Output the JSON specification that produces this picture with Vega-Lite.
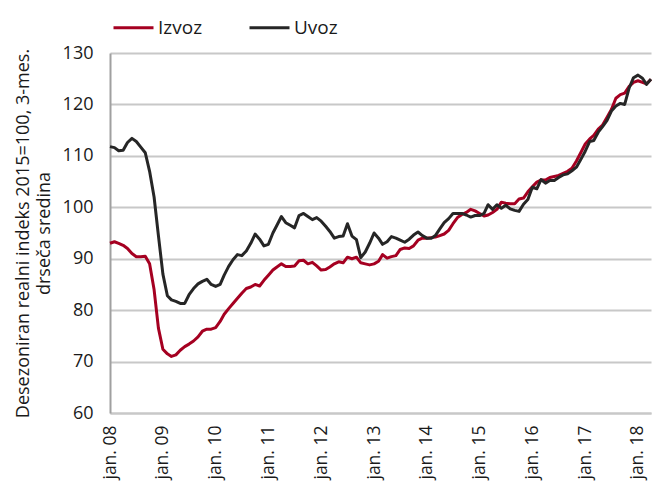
{
  "$schema": "https://vega.github.io/schema/vega-lite/v6.json",
  "width": 541,
  "height": 360,
  "autosize": {"type": "none"},
  "padding": {"left": 110, "top": 53, "right": 1, "bottom": 70},
  "background": "white",
  "config": {
    "font": "Open Sans",
    "view": {"stroke": null}
  },
  "data": {
    "values": [
      {"d": "2008-01", "Izvoz": 93.0, "Uvoz": 111.8},
      {"d": "2008-02", "Izvoz": 93.3, "Uvoz": 111.6},
      {"d": "2008-03", "Izvoz": 93.0, "Uvoz": 111.0},
      {"d": "2008-04", "Izvoz": 92.6, "Uvoz": 111.1},
      {"d": "2008-05", "Izvoz": 92.0, "Uvoz": 112.6},
      {"d": "2008-06", "Izvoz": 91.0, "Uvoz": 113.4},
      {"d": "2008-07", "Izvoz": 90.4, "Uvoz": 112.8},
      {"d": "2008-08", "Izvoz": 90.4, "Uvoz": 111.7},
      {"d": "2008-09", "Izvoz": 90.5, "Uvoz": 110.6},
      {"d": "2008-10", "Izvoz": 89.0, "Uvoz": 107.0},
      {"d": "2008-11", "Izvoz": 84.0, "Uvoz": 102.0},
      {"d": "2008-12", "Izvoz": 76.5, "Uvoz": 94.5},
      {"d": "2009-01", "Izvoz": 72.4, "Uvoz": 87.0},
      {"d": "2009-02", "Izvoz": 71.5, "Uvoz": 82.8},
      {"d": "2009-03", "Izvoz": 71.0, "Uvoz": 82.0},
      {"d": "2009-04", "Izvoz": 71.3, "Uvoz": 81.7},
      {"d": "2009-05", "Izvoz": 72.2, "Uvoz": 81.3},
      {"d": "2009-06", "Izvoz": 72.9, "Uvoz": 81.3},
      {"d": "2009-07", "Izvoz": 73.4, "Uvoz": 83.0},
      {"d": "2009-08", "Izvoz": 74.0, "Uvoz": 84.2},
      {"d": "2009-09", "Izvoz": 74.8, "Uvoz": 85.1},
      {"d": "2009-10", "Izvoz": 75.9, "Uvoz": 85.6},
      {"d": "2009-11", "Izvoz": 76.3, "Uvoz": 86.0},
      {"d": "2009-12", "Izvoz": 76.3, "Uvoz": 85.0},
      {"d": "2010-01", "Izvoz": 76.6, "Uvoz": 84.6},
      {"d": "2010-02", "Izvoz": 77.8, "Uvoz": 85.0},
      {"d": "2010-03", "Izvoz": 79.2, "Uvoz": 86.8},
      {"d": "2010-04", "Izvoz": 80.3, "Uvoz": 88.5},
      {"d": "2010-05", "Izvoz": 81.3, "Uvoz": 89.8},
      {"d": "2010-06", "Izvoz": 82.3, "Uvoz": 90.8},
      {"d": "2010-07", "Izvoz": 83.3, "Uvoz": 90.6},
      {"d": "2010-08", "Izvoz": 84.2, "Uvoz": 91.5},
      {"d": "2010-09", "Izvoz": 84.5, "Uvoz": 93.0},
      {"d": "2010-10", "Izvoz": 85.0, "Uvoz": 94.8},
      {"d": "2010-11", "Izvoz": 84.7, "Uvoz": 93.8},
      {"d": "2010-12", "Izvoz": 85.8, "Uvoz": 92.5},
      {"d": "2011-01", "Izvoz": 86.8, "Uvoz": 92.8},
      {"d": "2011-02", "Izvoz": 87.8, "Uvoz": 95.0},
      {"d": "2011-03", "Izvoz": 88.4, "Uvoz": 96.5},
      {"d": "2011-04", "Izvoz": 89.0, "Uvoz": 98.2},
      {"d": "2011-05", "Izvoz": 88.5, "Uvoz": 97.0},
      {"d": "2011-06", "Izvoz": 88.5, "Uvoz": 96.5},
      {"d": "2011-07", "Izvoz": 88.6, "Uvoz": 96.0},
      {"d": "2011-08", "Izvoz": 89.6, "Uvoz": 98.4},
      {"d": "2011-09", "Izvoz": 89.7, "Uvoz": 98.8},
      {"d": "2011-10", "Izvoz": 89.0, "Uvoz": 98.2},
      {"d": "2011-11", "Izvoz": 89.3, "Uvoz": 97.6},
      {"d": "2011-12", "Izvoz": 88.6, "Uvoz": 98.0},
      {"d": "2012-01", "Izvoz": 87.8, "Uvoz": 97.3},
      {"d": "2012-02", "Izvoz": 87.9, "Uvoz": 96.3},
      {"d": "2012-03", "Izvoz": 88.4, "Uvoz": 95.3},
      {"d": "2012-04", "Izvoz": 89.0, "Uvoz": 94.0},
      {"d": "2012-05", "Izvoz": 89.4, "Uvoz": 94.3},
      {"d": "2012-06", "Izvoz": 89.2, "Uvoz": 94.4},
      {"d": "2012-07", "Izvoz": 90.3, "Uvoz": 96.8},
      {"d": "2012-08", "Izvoz": 90.0, "Uvoz": 94.4},
      {"d": "2012-09", "Izvoz": 90.3, "Uvoz": 93.7},
      {"d": "2012-10", "Izvoz": 89.2, "Uvoz": 90.2},
      {"d": "2012-11", "Izvoz": 89.0, "Uvoz": 91.3},
      {"d": "2012-12", "Izvoz": 88.8, "Uvoz": 93.0},
      {"d": "2013-01", "Izvoz": 89.0, "Uvoz": 95.0},
      {"d": "2013-02", "Izvoz": 89.5, "Uvoz": 94.0},
      {"d": "2013-03", "Izvoz": 90.8, "Uvoz": 92.8},
      {"d": "2013-04", "Izvoz": 90.1, "Uvoz": 93.3},
      {"d": "2013-05", "Izvoz": 90.4, "Uvoz": 94.3},
      {"d": "2013-06", "Izvoz": 90.6, "Uvoz": 94.0},
      {"d": "2013-07", "Izvoz": 91.8, "Uvoz": 93.6},
      {"d": "2013-08", "Izvoz": 92.1, "Uvoz": 93.2},
      {"d": "2013-09", "Izvoz": 92.0, "Uvoz": 93.8},
      {"d": "2013-10", "Izvoz": 92.5, "Uvoz": 94.6},
      {"d": "2013-11", "Izvoz": 93.6, "Uvoz": 95.2},
      {"d": "2013-12", "Izvoz": 94.0, "Uvoz": 94.5},
      {"d": "2014-01", "Izvoz": 94.0, "Uvoz": 94.0},
      {"d": "2014-02", "Izvoz": 94.1, "Uvoz": 94.0},
      {"d": "2014-03", "Izvoz": 94.2, "Uvoz": 94.5},
      {"d": "2014-04", "Izvoz": 94.5, "Uvoz": 95.8},
      {"d": "2014-05", "Izvoz": 94.8, "Uvoz": 97.0},
      {"d": "2014-06", "Izvoz": 95.5, "Uvoz": 97.8},
      {"d": "2014-07", "Izvoz": 96.8, "Uvoz": 98.8},
      {"d": "2014-08", "Izvoz": 98.0, "Uvoz": 98.8},
      {"d": "2014-09", "Izvoz": 98.6, "Uvoz": 98.8},
      {"d": "2014-10", "Izvoz": 99.0, "Uvoz": 98.5},
      {"d": "2014-11", "Izvoz": 99.6, "Uvoz": 98.1},
      {"d": "2014-12", "Izvoz": 99.3, "Uvoz": 98.4},
      {"d": "2015-01", "Izvoz": 98.8, "Uvoz": 98.4},
      {"d": "2015-02", "Izvoz": 98.3, "Uvoz": 98.8},
      {"d": "2015-03", "Izvoz": 98.5, "Uvoz": 100.5},
      {"d": "2015-04", "Izvoz": 99.0, "Uvoz": 99.6},
      {"d": "2015-05", "Izvoz": 99.6, "Uvoz": 100.5},
      {"d": "2015-06", "Izvoz": 101.0, "Uvoz": 99.8},
      {"d": "2015-07", "Izvoz": 100.8, "Uvoz": 100.4},
      {"d": "2015-08", "Izvoz": 100.7, "Uvoz": 99.7},
      {"d": "2015-09", "Izvoz": 100.7, "Uvoz": 99.4},
      {"d": "2015-10", "Izvoz": 101.6, "Uvoz": 99.2},
      {"d": "2015-11", "Izvoz": 101.8, "Uvoz": 100.6},
      {"d": "2015-12", "Izvoz": 103.0, "Uvoz": 101.5},
      {"d": "2016-01", "Izvoz": 104.0, "Uvoz": 103.9},
      {"d": "2016-02", "Izvoz": 104.9, "Uvoz": 103.6},
      {"d": "2016-03", "Izvoz": 105.3, "Uvoz": 105.4},
      {"d": "2016-04", "Izvoz": 105.3, "Uvoz": 104.7},
      {"d": "2016-05", "Izvoz": 105.8, "Uvoz": 105.2},
      {"d": "2016-06", "Izvoz": 106.0, "Uvoz": 105.2},
      {"d": "2016-07", "Izvoz": 106.2, "Uvoz": 105.8},
      {"d": "2016-08", "Izvoz": 106.6, "Uvoz": 106.3},
      {"d": "2016-09", "Izvoz": 107.0, "Uvoz": 106.5},
      {"d": "2016-10", "Izvoz": 107.6, "Uvoz": 107.1},
      {"d": "2016-11", "Izvoz": 109.0, "Uvoz": 107.8},
      {"d": "2016-12", "Izvoz": 110.6, "Uvoz": 109.3},
      {"d": "2017-01", "Izvoz": 112.3, "Uvoz": 110.9},
      {"d": "2017-02", "Izvoz": 113.3, "Uvoz": 112.8},
      {"d": "2017-03", "Izvoz": 114.0, "Uvoz": 113.0},
      {"d": "2017-04", "Izvoz": 115.2, "Uvoz": 114.6},
      {"d": "2017-05", "Izvoz": 116.0, "Uvoz": 115.7},
      {"d": "2017-06", "Izvoz": 117.5, "Uvoz": 116.9},
      {"d": "2017-07", "Izvoz": 119.0, "Uvoz": 118.7},
      {"d": "2017-08", "Izvoz": 121.2, "Uvoz": 119.7},
      {"d": "2017-09", "Izvoz": 121.9, "Uvoz": 120.2},
      {"d": "2017-10", "Izvoz": 122.2, "Uvoz": 120.0},
      {"d": "2017-11", "Izvoz": 123.5, "Uvoz": 123.2},
      {"d": "2017-12", "Izvoz": 124.3, "Uvoz": 125.2},
      {"d": "2018-01", "Izvoz": 124.6, "Uvoz": 125.7},
      {"d": "2018-02", "Izvoz": 124.3, "Uvoz": 125.1},
      {"d": "2018-03", "Izvoz": 124.0, "Uvoz": 123.9},
      {"d": "2018-04", "Izvoz": 124.9, "Uvoz": 124.9}
    ]
  },
  "transform": [{"fold": ["Izvoz", "Uvoz"], "as": ["s", "v"]}],
  "mark": {"type": "line", "strokeWidth": 3, "strokeJoin": "round"},
  "encoding": {
    "x": {
      "field": "d",
      "type": "temporal",
      "scale": {
        "type": "utc",
        "domain": [1199145600000, 1522540800000]
      },
      "axis": {
        "title": null,
        "values": [1199145600000, 1230768000000, 1262304000000, 1293840000000, 1325376000000, 1356998400000, 1388534400000, 1420070400000, 1451606400000, 1483228800000, 1514764800000],
        "labelExpr": "'jan. ' + utcFormat(datum.value, '%y')",
        "labelAngle": -90,
        "labelAlign": "right",
        "labelBaseline": "middle",
        "labelFontSize": 17.5,
        "labelColor": "#1a1a1a",
        "labelPadding": 12,
        "ticks": false,
        "grid": false,
        "domainColor": "#c8c8c8",
        "domainWidth": 2,
        "labelOverlap": false
      }
    },
    "y": {
      "field": "v",
      "type": "quantitative",
      "scale": {"domain": [60, 130], "nice": false, "zero": false},
      "axis": {
        "title": ["Desezoniran realni indeks 2015=100, 3-mes.", "drseča sredina"],
        "titleFontSize": 18,
        "titleFontWeight": "normal",
        "titleColor": "#1a1a1a",
        "titleLineHeight": 21,
        "titlePadding": 9,
        "values": [60, 70, 80, 90, 100, 110, 120, 130],
        "labelFontSize": 18,
        "labelColor": "#1a1a1a",
        "labelPadding": 17,
        "ticks": false,
        "grid": true,
        "gridColor": "#c8c8c8",
        "gridWidth": 2,
        "domainColor": "#a0a0a0",
        "domainWidth": 2
      }
    },
    "color": {
      "field": "s",
      "type": "nominal",
      "scale": {"domain": ["Izvoz", "Uvoz"], "range": ["#a50021", "#262626"]},
      "legend": {
        "title": null,
        "orient": "none",
        "legendX": 2,
        "legendY": -47,
        "direction": "horizontal",
        "symbolType": "stroke",
        "symbolSize": 1600,
        "symbolStrokeWidth": 3,
        "labelFontSize": 19,
        "labelColor": "#1a1a1a",
        "labelOffset": 3,
        "columnPadding": 40
      }
    }
  }
}
